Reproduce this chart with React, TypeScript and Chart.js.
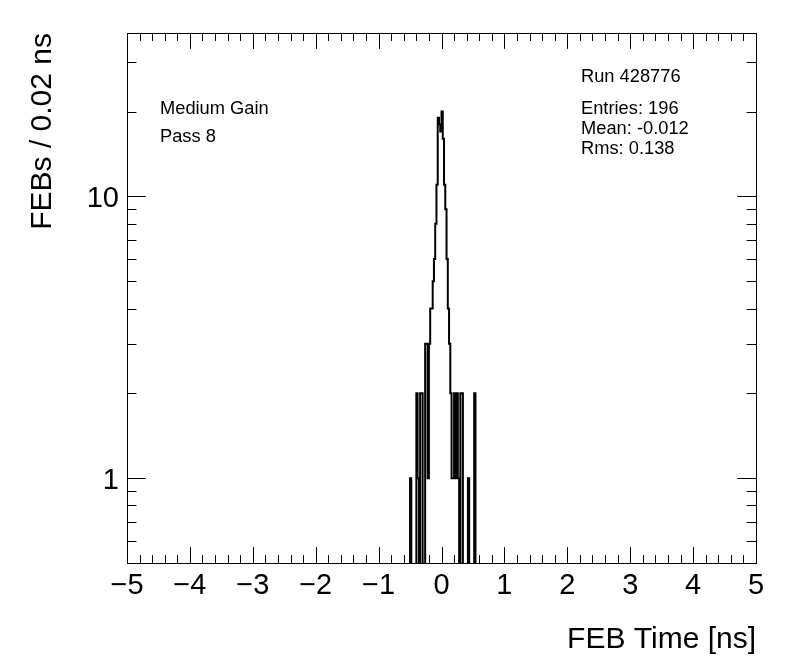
import React, { useEffect, useRef } from 'react';
import { Chart, registerables } from 'chart.js';

Chart.register(...registerables);

// ---- data ----
const BIN_WIDTH = 0.02;
const X_MIN = -5;
const X_MAX = 5;
const Y_MIN = 0.5;
const Y_MAX = 38;
const EMPTY_FLOOR = 0.1; // empty bins drawn below the axis minimum (clipped)

// low edges (ns) of the non-empty bins
const binLowEdges = [
  -0.5, -0.4, -0.38, -0.34, -0.32, -0.26, -0.24, -0.22, -0.2, -0.18, -0.16, -0.14,
  -0.12, -0.1, -0.08, -0.06, -0.04, -0.02, 0.0, 0.02, 0.04, 0.06, 0.08, 0.1, 0.12,
  0.14, 0.16, 0.18, 0.2, 0.22, 0.24, 0.26, 0.3, 0.32, 0.42, 0.52,
];
const binCounts = [
  1, 2, 1, 2, 2, 3, 3, 1, 3, 4, 4, 5,
  6, 8, 11, 19, 18, 17, 20, 16, 11, 9, 6, 4, 3,
  2, 1, 1, 2, 1, 2, 1, 2, 2, 1, 2,
];

const xMajorTicks = [-5, -4, -3, -2, -1, 0, 1, 2, 3, 4, 5];
const xTickLabels = ['\u22125', '\u22124', '\u22123', '\u22122', '\u22121', '0', '1', '2', '3', '4', '5'];
const xMinorTicks = [
  -4.8, -4.6, -4.4, -4.2, -3.8, -3.6, -3.4, -3.2, -2.8, -2.6, -2.4, -2.2,
  -1.8, -1.6, -1.4, -1.2, -0.8, -0.6, -0.4, -0.2, 0.2, 0.4, 0.6, 0.8,
  1.2, 1.4, 1.6, 1.8, 2.2, 2.4, 2.6, 2.8, 3.2, 3.4, 3.6, 3.8, 4.2, 4.4, 4.6, 4.8,
];
const yMajorTicks = [1, 10];
const yTickLabels = ['1', '10'];
const yMinorTicks = [0.6, 0.7, 0.8, 0.9, 2, 3, 4, 5, 6, 7, 8, 9, 20, 30];

const xTitle = 'FEB Time [ns]';
const yTitle = 'FEBs / 0.02 ns';
const leftNotes = ['Medium Gain', 'Pass 8'];
const runLine = 'Run 428776';
const statLines = ['Entries: 196', 'Mean: -0.012', 'Rms: 0.138'];

function buildSeries() {
  const nBins = Math.round((X_MAX - X_MIN) / BIN_WIDTH);
  const lookup = new Map<number, number>();
  binLowEdges.forEach((e, i) => lookup.set(Math.round(e / BIN_WIDTH), binCounts[i]));
  const pts: { x: number; y: number }[] = [];
  for (let i = 0; i < nBins; i++) {
    const edge = X_MIN + i * BIN_WIDTH;
    const k = Math.round(edge / BIN_WIDTH);
    const c = lookup.get(k) || 0;
    pts.push({ x: edge, y: c > 0 ? c : EMPTY_FLOOR });
  }
  pts.push({ x: X_MAX, y: EMPTY_FLOOR });
  return pts;
}

const FONT = '"Liberation Sans", Arial, Helvetica, sans-serif';

const rootStylePlugin = {
  id: 'rootStyle',
  beforeDraw(chart: any) {
    const ctx = chart.ctx;
    ctx.save();
    ctx.fillStyle = '#ffffff';
    ctx.fillRect(0, 0, chart.width, chart.height);
    ctx.restore();
  },
  afterDraw(chart: any) {
    const ctx = chart.ctx;
    const { left, right, top, bottom } = chart.chartArea;
    const xs = chart.scales.x;
    const ys = chart.scales.y;
    const plotW = right - left;
    const plotH = bottom - top;
    const xMajLen = 0.03 * plotH;
    const yMajLen = 0.03 * plotW;
    const snap = (v: number) => Math.round(v) + 0.5;

    ctx.save();
    ctx.strokeStyle = '#000';
    ctx.lineWidth = 1;
    // frame
    ctx.strokeRect(snap(left), snap(top), Math.round(right) - Math.round(left), Math.round(bottom) - Math.round(top));

    ctx.beginPath();
    const xTick = (v: number, len: number) => {
      const px = snap(xs.getPixelForValue(v));
      ctx.moveTo(px, bottom);
      ctx.lineTo(px, bottom - len);
      ctx.moveTo(px, top);
      ctx.lineTo(px, top + len);
    };
    xMajorTicks.forEach((v) => xTick(v, xMajLen));
    xMinorTicks.forEach((v) => xTick(v, xMajLen / 2));
    const yTick = (v: number, len: number) => {
      const py = snap(ys.getPixelForValue(v));
      ctx.moveTo(left, py);
      ctx.lineTo(left + len, py);
      ctx.moveTo(right, py);
      ctx.lineTo(right - len, py);
    };
    yMajorTicks.forEach((v) => yTick(v, yMajLen));
    yMinorTicks.forEach((v) => yTick(v, yMajLen / 2));
    ctx.stroke();

    // tick labels
    ctx.fillStyle = '#000';
    ctx.font = `29px ${FONT}`;
    ctx.textAlign = 'center';
    ctx.textBaseline = 'alphabetic';
    xMajorTicks.forEach((v, i) => {
      ctx.fillText(xTickLabels[i], xs.getPixelForValue(v), bottom + 31);
    });
    ctx.textAlign = 'right';
    yMajorTicks.forEach((v, i) => {
      ctx.fillText(yTickLabels[i], left - 8, ys.getPixelForValue(v) + 10.5);
    });

    // axis titles
    ctx.font = `30px ${FONT}`;
    ctx.textAlign = 'right';
    ctx.fillText(xTitle, right, bottom + 85);
    ctx.save();
    ctx.translate(51, top);
    ctx.rotate(-Math.PI / 2);
    ctx.textAlign = 'right';
    ctx.fillText(yTitle, 0, 0);
    ctx.restore();

    // annotations
    ctx.font = `18.3px ${FONT}`;
    ctx.textAlign = 'left';
    ctx.fillText(leftNotes[0], 160, 114);
    ctx.fillText(leftNotes[1], 160, 141.5);
    ctx.fillText(runLine, 581, 81.5);
    ctx.fillText(statLines[0], 581, 114);
    ctx.fillText(statLines[1], 581, 134);
    ctx.fillText(statLines[2], 581, 153.5);
    ctx.restore();
  },
};

export default function App() {
  const canvasRef = useRef<HTMLCanvasElement | null>(null);

  useEffect(() => {
    document.body.style.margin = '0';
    const canvas = canvasRef.current;
    if (!canvas) return;
    const chart = new Chart(canvas, {
      type: 'line',
      data: {
        datasets: [
          {
            data: buildSeries(),
            borderColor: '#000',
            borderWidth: 2,
            pointRadius: 0,
            fill: false,
            stepped: 'before',
            tension: 0,
            clip: 0,
          } as any,
        ],
      },
      options: {
        responsive: false,
        animation: false,
        devicePixelRatio: 1,
        layout: { padding: { left: 127, top: 33, right: 40, bottom: 109 } },
        plugins: { legend: { display: false }, tooltip: { enabled: false } },
        scales: {
          x: { type: 'linear', min: X_MIN, max: X_MAX, display: false },
          y: { type: 'logarithmic', min: Y_MIN, max: Y_MAX, display: false },
        },
      },
      plugins: [rootStylePlugin],
    });
    return () => chart.destroy();
  }, []);

  return (
    <div style={{ width: 796, height: 672 }}>
      <canvas ref={canvasRef} width={796} height={672} style={{ display: 'block' }} />
    </div>
  );
}
